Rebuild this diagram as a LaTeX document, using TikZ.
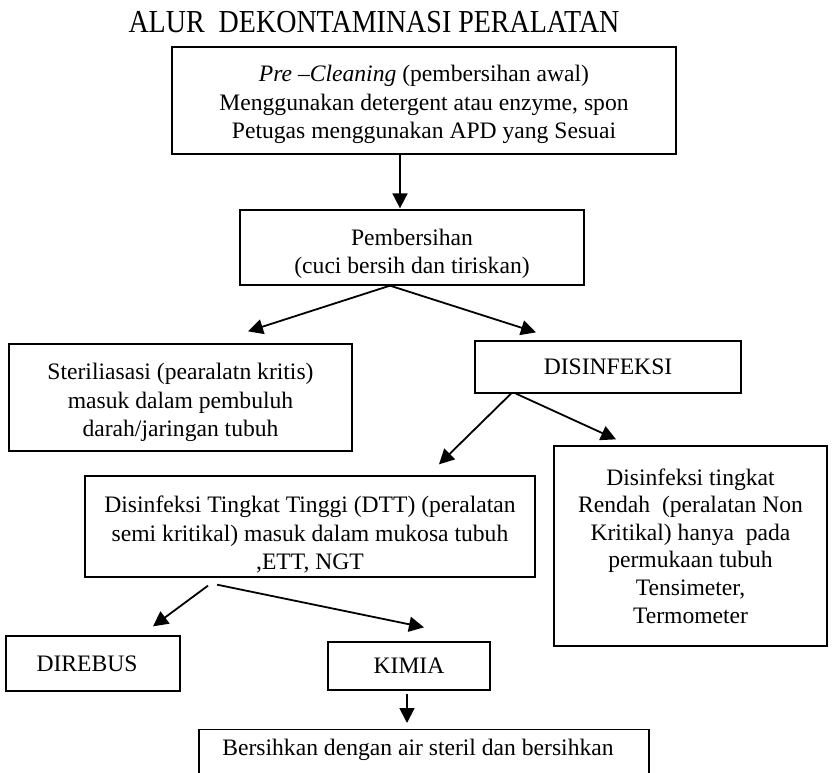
\documentclass[tikz,border=0pt]{standalone}
\usepackage{fontspec}
\setmainfont{Liberation Serif}
\newfontfamily\titlefont[FakeStretch=0.875]{Liberation Serif}
\usetikzlibrary{arrows.meta}
\begin{document}
\begin{tikzpicture}[x=1pt,y=-1pt,
  box/.style={draw=black,line width=1.3pt,inner sep=0pt,align=center,
    font=\fontsize{23.6}{28.5}\selectfont},
  conn/.style={line width=1.8pt,-{Triangle[length=15pt,width=15pt]}},
  txt/.style={inner sep=0pt,font=\fontsize{23.6}{28.5}\selectfont}]
\useasboundingbox (0,0) rectangle (833,773);
\clip (0,0) rectangle (833,773);
\node[inner sep=0pt,anchor=base,font=\titlefont\fontsize{32}{34}\selectfont] (title) at (374,33) {ALUR\ \ DEKONTAMINASI PERALATAN};
\node[box,minimum width=504pt,minimum height=107pt] (pre) at (424,100.5)
  {\rule{0pt}{25pt}\textit{Pre –Cleaning} (pembersihan awal)\\ Menggunakan detergent atau enzyme, spon\\ Petugas menggunakan APD yang Sesuai};
\node[box,minimum width=344pt,minimum height=75pt] (pem) at (412,247.5)
  {\rule{0pt}{29pt}Pembersihan\\ (cuci bersih dan tiriskan)};
\node[box,minimum width=343pt,minimum height=107pt] (ster) at (180.5,397.5)
  {\rule{0pt}{27pt}Steriliasasi (pearalatn kritis)\\ masuk dalam pembuluh\\ darah/jaringan tubuh};
\node[box,minimum width=266pt,minimum height=52pt] (dis) at (608,367) {DISINFEKSI};
\node[box,minimum width=450pt,minimum height=101pt] (dtt) at (310,526.5)
  {\rule{0pt}{33pt}Disinfeksi Tingkat Tinggi (DTT) (peralatan\\ semi kritikal) masuk dalam mukosa tubuh\\ ,ETT, NGT};
\node[box,minimum width=273pt,minimum height=200pt,font=\fontsize{23.6}{27.6}\selectfont] (ren) at (690.5,546)
  {Disinfeksi tingkat\\ Rendah\ \ (peralatan Non\\ Kritikal) hanya\ \ pada\\ permukaan tubuh\\ Tensimeter,\\ Termometer};
\node[box,minimum width=174pt,minimum height=55pt] (dir) at (93,663.5) {\hspace*{-12pt}DIREBUS};
\node[box,minimum width=162pt,minimum height=48pt] (kim) at (409,666) {KIMIA};
\node[draw=black,line width=1.3pt,inner sep=0pt,anchor=north,minimum width=450pt,minimum height=80pt] (ber) at (424,729) {};
\node[txt,anchor=base] (berT) at (418,755) {Bersihkan dengan air steril dan bersihkan};
\draw[conn] ([xshift=-24pt]pre.south) -- ([xshift=-12pt,yshift=1pt]pem.north);
\draw[conn] ([xshift=-22pt]pem.south) -- ([xshift=67.5pt,yshift=12pt]ster.north);
\draw[conn] ([xshift=-22pt]pem.south) -- ([xshift=-72pt,yshift=8pt]dis.north);
\draw[conn] ([xshift=-97pt]dis.south) -- ([xshift=129pt,yshift=11pt]dtt.north);
\draw[conn] ([xshift=-92pt]dis.south) -- ([xshift=-74.5pt,yshift=6pt]ren.north);
\draw[conn] ([xshift=-102pt,yshift=-8pt]dtt.south) -- ([xshift=60pt,yshift=9pt]dir.north);
\draw[conn] ([xshift=-93pt,yshift=-7pt]dtt.south) -- ([xshift=15pt,yshift=14pt]kim.north);
\draw[conn] ([xshift=-2pt,yshift=-3pt]kim.south) -- ([xshift=-17pt,yshift=6pt]ber.north);
\end{tikzpicture}
\end{document}
